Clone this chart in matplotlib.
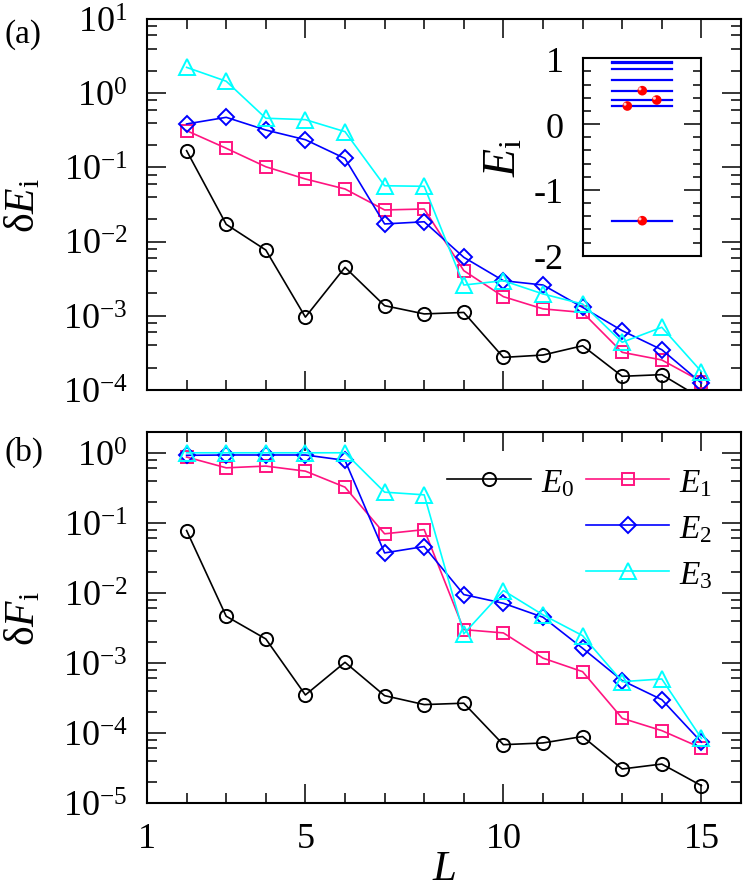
import numpy as np
import matplotlib
matplotlib.use("Agg")
import matplotlib.pyplot as plt
from matplotlib.ticker import LogLocator, MultipleLocator, NullFormatter, FixedLocator, FuncFormatter
from matplotlib.lines import Line2D

plt.rcParams["font.family"] = ["Liberation Serif", "DejaVu Serif"]
plt.rcParams["mathtext.fontset"] = "custom"
plt.rcParams["mathtext.rm"] = "Liberation Serif"
plt.rcParams["mathtext.it"] = "Liberation Serif:italic"
plt.rcParams["mathtext.bf"] = "Liberation Serif:bold"

BLACK = "#000000"
PINK = "#FF1480"
BLUE = "#0000FF"
CYAN = "#00FFFF"

L = [2, 3, 4, 5, 6, 7, 8, 9, 10, 11, 12, 13, 14, 15]

# panel (a): energy errors
dE0 = [0.168, 0.0171, 0.0077, 0.00096, 0.0045, 0.00137, 0.00106, 0.00111,
       0.000275, 0.000296, 0.000395, 0.000153, 0.000161, 0.000077]
dE1 = [0.313, 0.181, 0.102, 0.0698, 0.0512, 0.0267, 0.0275, 0.00406,
       0.00181, 0.00124, 0.00111, 0.000322, 0.000254, 0.00013]
dE2 = [0.385, 0.473, 0.319, 0.236, 0.132, 0.0173, 0.0185, 0.00614,
       0.00297, 0.0026, 0.0013, 0.00063, 0.000349, 0.000124]
dE3 = [2.23, 1.45, 0.46, 0.44, 0.303, 0.0566, 0.0556, 0.0026,
       0.00297, 0.00197, 0.00144, 0.00044, 0.0007, 0.000177]

# panel (b): fidelity errors
dF0 = [0.0776, 0.00464, 0.0022, 0.000349, 0.00102, 0.000341, 0.000254, 0.000266,
       6.8e-5, 7.2e-5, 8.9e-5, 3.06e-5, 3.6e-5, 1.77e-5]
dF1 = [0.87, 0.61, 0.646, 0.547, 0.323, 0.0697, 0.080, 0.00299,
       0.00268, 0.00117, 0.00075, 1.62e-4, 1.08e-4, 6.1e-5]
dF2 = [0.92, 0.93, 0.93, 0.93, 0.78, 0.0372, 0.0459, 0.00946,
       0.0071, 0.00449, 0.00162, 0.00056, 0.000299, 7.4e-5]
dF3 = [1.0, 1.0, 1.0, 1.0, 1.0, 0.274, 0.251, 0.0026,
       0.0108, 0.00485, 0.00245, 0.00054, 0.00059, 8.4e-5]

# inset: spectrum levels and the four targeted states
levels = [0.948, 0.932, 0.837, 0.675, 0.498, 0.366, 0.280, -1.468]
dot_x = [0.501, 0.624, 0.374, 0.501]
dot_E = [0.508, 0.366, 0.275, -1.468]

styles = [(BLACK, "o", 9.5), (PINK, "s", 8), (BLUE, "D", 8), (CYAN, "^", 11.5)]
names = [r"$E_0$", r"$E_1$", r"$E_2$", r"$E_3$"]

fig = plt.figure(figsize=(7.47, 8.95), dpi=100)
W, H = 747.0, 895.0
ax1 = fig.add_axes([147 / W, (H - 391) / H, 594 / W, 371 / H])
ax2 = fig.add_axes([147 / W, (H - 804) / H, 594 / W, 371.3 / H])


def style_axes(ax):
    ax.set_yscale("log")
    ax.set_xlim(1, 16)
    ax.xaxis.set_major_locator(FixedLocator([1, 5, 10, 15]))
    ax.xaxis.set_minor_locator(MultipleLocator(1))
    ax.yaxis.set_major_locator(LogLocator(base=10, numticks=20))
    ax.yaxis.set_minor_locator(LogLocator(base=10, subs=[2, 4, 6, 8], numticks=20))
    ax.yaxis.set_minor_formatter(NullFormatter())
    ax.tick_params(which="both", direction="in", top=True, right=True, width=1.1)
    ax.tick_params(which="major", length=14, labelsize=26)
    ax.tick_params(which="minor", length=7)
    ax.tick_params(axis="y", which="major", pad=14)
    ax.tick_params(axis="x", which="major", pad=14)
    for sp in ax.spines.values():
        sp.set_linewidth(1.5)


for ax, series in [(ax1, [dE0, dE1, dE2, dE3]), (ax2, [dF0, dF1, dF2, dF3])]:
    for ys, (c, m, ms), nm in zip(series, styles, names):
        ax.plot(L, ys, color=c, marker=m, markersize=ms, markerfacecolor="none",
                markeredgecolor=c, markeredgewidth=1.4, linewidth=1.2, label=nm)
    style_axes(ax)

ax1.set_ylim(1e-4, 10)
ax1.tick_params(axis="x", labelbottom=False)
ax1.set_ylabel("δ$E_{\\rm i}$", fontsize=30, labelpad=14)

ax2.set_ylim(1e-5, 2)
ax2.set_xticklabels(["1", "5", "10", "15"])
ax2.set_ylabel("δ$F_{\\rm i}$", fontsize=30, labelpad=14)
ax2.set_xlabel(r"$L$", fontsize=31, labelpad=-4)

fig.text(5 / W, 1 - 35 / H, "(a)", fontsize=24, va="center", ha="left")
fig.text(5 / W, 1 - 452 / H, "(b)", fontsize=24, va="center", ha="left")

# legend: E0 alone in first column, E1..E3 in second
h, lab = ax2.get_legend_handles_labels()
blank = Line2D([], [], linestyle="none", marker=None)
ax2.legend([h[0], blank, blank, h[1], h[2], h[3]], [lab[0], "", "", lab[1], lab[2], lab[3]],
           ncol=2, frameon=False, fontsize=24, handlelength=2.5, handletextpad=0.3,
           columnspacing=0.35, labelspacing=0.45, loc="upper right",
           bbox_to_anchor=(0.975, 0.94), borderaxespad=0)

# inset with the spectrum
ins = fig.add_axes([583.3 / W, (H - 256.7) / H, 117.7 / W, 197.4 / H])
ins.set_xlim(0, 1)
ins.set_ylim(-2, 1)
for e in levels:
    ins.plot([0.246, 0.751], [e, e], color=BLUE, linewidth=1.6)
ins.scatter(dot_x, dot_E, s=48, color="#FF0000", zorder=3, edgecolors="none")
ins.scatter([x - 0.02 for x in dot_x], [e + 0.028 for e in dot_E], s=5,
            color="#FFD0D0", zorder=4, edgecolors="none")
ins.set_xticks([])
ins.yaxis.set_major_locator(MultipleLocator(1))
ins.yaxis.set_minor_locator(MultipleLocator(0.2))
ins.yaxis.set_major_formatter(FuncFormatter(lambda v, p: "%d" % round(v)))
ins.tick_params(which="both", direction="in", left=True, right=True, width=1.1)
ins.tick_params(which="major", length=12, labelsize=26, pad=14)
ins.tick_params(which="minor", length=6)
for sp in ins.spines.values():
    sp.set_linewidth(1.5)
ins.set_ylabel(r"$E_{\rm i}$", fontsize=33, labelpad=6)

fig.savefig("out.png", dpi=100)
